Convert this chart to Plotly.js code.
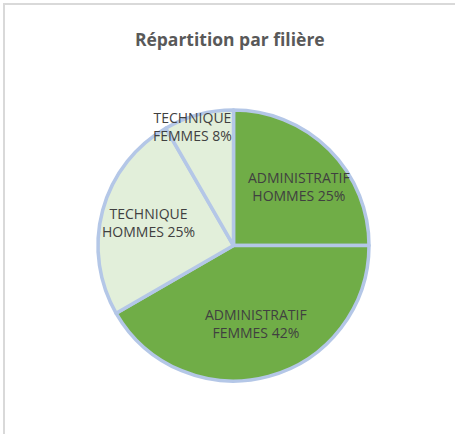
<!DOCTYPE html>
<html>
<head>
<meta charset="utf-8">
<script src="https://cdn.plot.ly/plotly-3.0.1.min.js"></script>
<style>
html,body{margin:0;padding:0;background:#fff;}
#frame{position:absolute;left:3px;top:3px;width:460px;height:440px;border-top:2px solid #d9d9d9;border-left:2px solid #d9d9d9;box-sizing:border-box;pointer-events:none;}
#chart{position:absolute;left:0;top:0;width:455px;height:434px;}
</style>
</head>
<body>
<div id="chart"></div>
<div id="frame"></div>
<script>
const chartTitle = "Répartition par filière";
const categories = ["ADMINISTRATIF HOMMES", "ADMINISTRATIF FEMMES", "TECHNIQUE HOMMES", "TECHNIQUE FEMMES"];
const labelLines = ["ADMINISTRATIF<br>HOMMES", "ADMINISTRATIF<br>FEMMES", "TECHNIQUE<br>HOMMES", "TECHNIQUE<br>FEMMES"];
const values = [3, 5, 3, 1];
const colors = ["#70AD47", "#70AD47", "#E2EFDA", "#E2EFDA"];

// label placement (fraction of radius from centre), Excel "best fit" look
const labelRadius = [0.65, 0.6, 0.65, 0.93];
const labelAngleShift = [3, -1, 0, -4];

const total = values.reduce((a, b) => a + b, 0);
const annotations = [];
let cum = 0;
values.forEach((v, i) => {
  const mid = (cum + v / 2) / total * 2 * Math.PI + labelAngleShift[i] * Math.PI / 180;
  cum += v;
  const r = 0.5 * labelRadius[i];
  annotations.push({
    xref: "paper", yref: "paper",
    x: 0.5 + r * Math.sin(mid),
    y: 0.5 + r * Math.cos(mid),
    xanchor: "center", yanchor: "middle",
    showarrow: false,
    align: "center",
    text: labelLines[i] + " " + Math.round(v / total * 100) + "%",
    font: {family: "Open Sans, sans-serif", size: 14, color: "#404040"}
  });
});

const trace = {
  type: "pie",
  labels: categories,
  values: values,
  sort: false,
  direction: "clockwise",
  rotation: 0,
  marker: {colors: colors, line: {color: "#B4C7E7", width: 3.5}},
  textinfo: "none",
  hoverinfo: "none",
  showlegend: false
};

const layout = {
  width: 455, height: 434,
  margin: {l: 97.5, r: 85.5, t: 109.5, b: 52.5},
  paper_bgcolor: "#ffffff",
  title: {text: "<b>" + chartTitle + "</b>", font: {family: "Open Sans, sans-serif", size: 17.5, color: "#595959"}, x: 0.505, xanchor: "center", y: 0.908, yanchor: "middle"},
  annotations: annotations,
  showlegend: false
};

Plotly.newPlot("chart", [trace], layout, {staticPlot: true});
</script>
</body>
</html>
